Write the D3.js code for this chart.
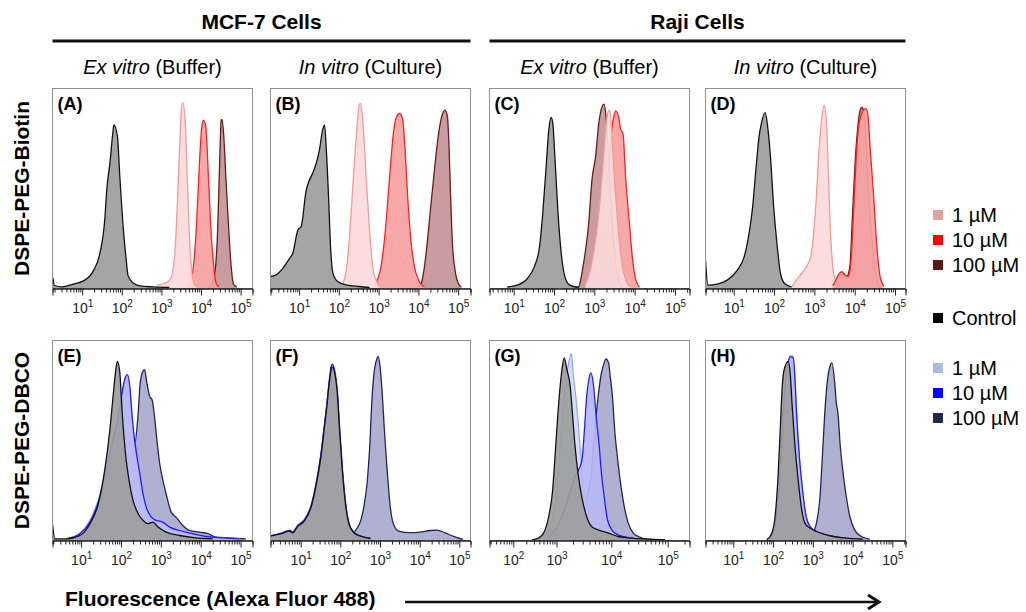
<!DOCTYPE html>
<html>
<head>
<meta charset="utf-8">
<script src="https://cdn.jsdelivr.net/npm/d3@7"></script>
<style>
  body { margin: 0; background: #fff; }
  svg { font-family: "Liberation Sans", Arial, sans-serif; }
</style>
</head>
<body>
<svg id="chart" width="1026" height="612"></svg>
<script>
// histogram traces, [log10 fluorescence, % of panel height]
var aCtrl = [[0.26,5.5],[0.3,1.5],[0.5,0.8],[0.77,2.2],[1.03,3.8],[1.28,8.8],[1.45,17.9],[1.57,34.5],[1.62,49.4],[1.70,62.7],[1.78,79],[1.80,81.8],[1.89,76],[1.95,56],[2.04,29.5],[2.11,14.6],[2.16,6.3],[2.29,2.7],[2.46,1.3],[2.80,0.8],[3.2,0.5]];
var a1 = [[2.88,1.7],[3.13,3],[3.26,6.3],[3.35,21],[3.41,46],[3.46,71],[3.51,90.9],[3.54,92.9],[3.60,84],[3.64,62.7],[3.70,29.5],[3.77,8],[3.83,2.2],[3.9,0.8]];
var a10 = [[3.65,0.8],[3.73,2.7],[3.81,11.3],[3.89,32.8],[3.96,62.7],[4.02,80.9],[4.06,84.2],[4.12,80.9],[4.19,54.4],[4.25,29.5],[4.32,11.3],[4.38,2.7],[4.45,0.8]];
var a100 = [[4.2,0.8],[4.27,2.2],[4.36,9.6],[4.42,29.5],[4.47,62.7],[4.51,84.2],[4.53,84.6],[4.57,77.6],[4.63,54.4],[4.70,29.5],[4.76,11.3],[4.82,2.2],[4.9,0.8]];

var bCtrl = [[0.28,6],[0.42,6.8],[0.59,10.1],[0.76,15.1],[0.84,17.6],[0.97,29.3],[1.05,31],[1.18,49.3],[1.26,54.2],[1.34,57.6],[1.43,62.6],[1.51,69.2],[1.59,79.2],[1.64,81.7],[1.68,70.9],[1.74,45.9],[1.79,20.9],[1.85,7.7],[1.97,3.5],[2.18,1.8],[2.51,1],[2.77,0.5]];
var b1 = [[2.02,0.8],[2.10,2.7],[2.20,11],[2.28,29.3],[2.36,54.2],[2.45,79.2],[2.51,91.7],[2.54,92.5],[2.60,84.2],[2.68,57.6],[2.77,29.3],[2.85,11],[2.95,3.5],[3.02,1.3]];
var b10 = [[2.88,0.8],[2.95,3.5],[3.06,11],[3.17,29.3],[3.27,54.2],[3.37,77.5],[3.45,85.9],[3.52,87.5],[3.60,85],[3.66,70.9],[3.73,45.9],[3.81,24.3],[3.90,11],[4.00,4.3],[4.09,1.8],[4.15,0.8]];
var b100 = [[4.0,0.8],[4.06,1.8],[4.14,9.3],[4.23,24.3],[4.31,40.9],[4.42,62.6],[4.52,79.2],[4.61,87.5],[4.67,89.2],[4.73,85.9],[4.77,70.9],[4.81,45.9],[4.85,24.3],[4.92,9.3],[5.01,2.3],[5.08,0.8]];

var cCtrl = [[0.84,0.8],[1.09,1.7],[1.34,5],[1.51,10.8],[1.64,20.8],[1.72,37.5],[1.81,62.5],[1.87,79.2],[1.93,85.5],[1.97,82.5],[2.03,62.5],[2.10,37.5],[2.18,17.5],[2.27,5.8],[2.39,1.7],[2.61,0.5]];
var c1 = [[2.77,1.7],[2.90,9.2],[3.03,24.2],[3.11,37.5],[3.21,60.8],[3.28,79.2],[3.34,88.3],[3.38,89.2],[3.43,79.2],[3.49,57.5],[3.55,40.8],[3.61,25.8],[3.70,10.8],[3.82,2.5],[3.9,0.8]];
var c10 = [[2.86,1.7],[2.98,7.5],[3.11,20.8],[3.24,37.5],[3.36,60.8],[3.43,79.2],[3.49,86.7],[3.53,88.8],[3.60,85.8],[3.66,79.2],[3.71,77.5],[3.78,54.2],[3.87,32.5],[3.95,14.2],[4.03,4.2],[4.12,0.8]];
var c100 = [[2.55,0.5],[2.61,0.8],[2.69,7.5],[2.77,17.5],[2.86,32.5],[2.94,54.2],[3.03,65.8],[3.11,82.5],[3.19,90.8],[3.24,92.2],[3.29,85.8],[3.34,70.8],[3.40,45.8],[3.49,20.8],[3.57,7.5],[3.66,1.7],[3.72,0.5]];

var dCtrl = [[0.30,14.2],[0.36,1.7],[0.59,2.2],[0.84,4.2],[1.09,9.2],[1.26,15.9],[1.38,27.6],[1.47,41],[1.55,59.5],[1.63,76.2],[1.69,82.9],[1.78,87.9],[1.84,81.2],[1.91,66.2],[1.99,41],[2.08,20.9],[2.16,7.5],[2.26,2.5],[2.43,0.8]];
var d1 = [[2.35,0.5],[2.43,0.8],[2.55,4.2],[2.68,7.5],[2.80,10.9],[2.91,15.9],[2.99,29.3],[3.05,46.1],[3.11,67.8],[3.18,84.6],[3.24,91.6],[3.30,82.9],[3.34,62.8],[3.38,37.7],[3.43,17.6],[3.49,5.9],[3.59,1.7],[3.65,0.5]];
var d10 = [[3.45,1.5],[3.51,3.4],[3.59,6.7],[3.68,8.4],[3.76,6.7],[3.84,5.9],[3.91,14.2],[3.97,37.7],[4.03,62.8],[4.09,79.6],[4.18,87.9],[4.24,89.6],[4.28,89.9],[4.33,86.3],[4.38,71.2],[4.47,46.1],[4.55,20.9],[4.63,5.9],[4.72,1.2]];
var d100 = [[3.5,1.5],[3.59,5.9],[3.72,7.5],[3.80,5.9],[3.88,10.9],[3.94,34.3],[4.01,62.8],[4.08,81.2],[4.13,88.8],[4.18,90.5],[4.23,87.9],[4.28,74.5],[4.34,49.4],[4.43,24.3],[4.51,9.2],[4.59,2.2],[4.65,0.5]];

var eCtrl = [[0.28,8.4],[0.34,0.8],[0.63,0.8],[0.97,2.5],[1.22,8.4],[1.43,18.4],[1.59,35.2],[1.72,55.3],[1.80,72],[1.87,85.4],[1.91,89.6],[1.97,83.8],[2.03,63.7],[2.12,41.9],[2.20,30.2],[2.30,20.1],[2.43,13.4],[2.55,10.1],[2.68,8.4],[2.80,9.2],[2.93,6.7],[3.13,4.2],[3.47,2.5],[3.88,1.3],[4.30,0.8]];
var e1 = [[0.63,0.8],[0.97,3.8],[1.22,10],[1.47,23],[1.63,36],[1.80,51],[1.93,62],[2.01,71],[2.09,79],[2.16,81.5],[2.22,76],[2.28,61],[2.34,49],[2.40,40],[2.47,32],[2.55,22.5],[2.63,16],[2.76,11],[2.88,9.5],[3.05,8.5],[3.22,6.3],[3.47,4.6],[3.80,3.1],[4.13,1.8],[4.55,1.2],[4.97,0.8]];
var e10 = [[0.63,0.8],[0.97,3.4],[1.22,9.2],[1.47,21.8],[1.63,35.2],[1.80,50.3],[1.93,62],[2.01,72],[2.09,80.4],[2.16,82.9],[2.22,77.1],[2.28,62],[2.34,50.3],[2.40,41.9],[2.47,33.5],[2.55,23.5],[2.63,16.8],[2.76,11.7],[2.88,10.1],[3.05,9.2],[3.22,6.7],[3.47,5],[3.80,3.4],[4.13,2],[4.55,1.3],[4.97,0.8]];
var e100 = [[0.63,0.8],[1.05,4.2],[1.38,15.1],[1.63,33.5],[1.88,45.2],[2.13,48.6],[2.34,47.7],[2.43,63.7],[2.48,78.7],[2.55,84.6],[2.59,85.4],[2.65,78.7],[2.72,72],[2.78,70.4],[2.84,62],[2.90,50.3],[2.97,38.5],[3.05,30.2],[3.13,23.5],[3.26,14.2],[3.38,11.7],[3.55,7.5],[3.72,5],[3.97,4.2],[4.18,3.4],[4.38,1.7],[4.72,1.3],[5.13,0.8]];

var fCtrl = [[0.24,2.2],[0.51,3.4],[0.72,4.7],[0.80,3.9],[0.93,7.2],[1.09,9.7],[1.26,16.5],[1.38,26.6],[1.51,41.7],[1.61,58.5],[1.66,66.9],[1.72,78.7],[1.78,86.2],[1.80,86.7],[1.86,83.7],[1.93,71.9],[1.98,55.1],[2.05,35],[2.13,18.2],[2.22,8.1],[2.34,3.9],[2.51,2.2],[2.76,1]];
var f1 = [[0.24,2.4],[0.51,3.8],[0.72,5.2],[0.80,4.5],[0.93,7.8],[1.09,10.5],[1.26,17.5],[1.38,28],[1.51,43.5],[1.61,60],[1.66,68.5],[1.72,80],[1.78,87.5],[1.81,88],[1.87,84.5],[1.94,72.5],[1.99,55.5],[2.06,35.5],[2.14,18.5],[2.23,8.3],[2.35,4],[2.52,2.2],[2.77,1]];
var f10 = [[0.24,2.3],[0.51,3.6],[0.72,5],[0.80,4.2],[0.93,7.5],[1.09,10.2],[1.26,17.2],[1.38,27.5],[1.51,43],[1.61,59.5],[1.66,68],[1.72,79.5],[1.78,87.8],[1.80,88.2],[1.86,84],[1.93,72],[1.98,55.5],[2.05,35.5],[2.13,18.5],[2.22,8.2],[2.34,4],[2.51,2.2],[2.76,1]];
var f100 = [[2.09,1.3],[2.26,2.7],[2.43,6.4],[2.51,9.7],[2.59,16.5],[2.68,29.9],[2.74,46.7],[2.80,71.9],[2.86,85.4],[2.93,91.3],[2.95,92.1],[2.99,88.7],[3.05,75.3],[3.11,55.1],[3.18,35],[3.26,16.5],[3.34,8.1],[3.47,4.7],[3.76,3.9],[4.01,4.2],[4.26,5],[4.43,5.2],[4.63,3.9],[4.84,2.2],[5.09,0.5]];

var gCtrl = [[2.43,0.3],[2.58,1.2],[2.70,3.7],[2.82,12],[2.91,25],[2.98,46.7],[3.05,72.1],[3.10,85.5],[3.14,91.3],[3.19,85.5],[3.25,77.1],[3.29,63.8],[3.34,46.7],[3.40,32.1],[3.46,22],[3.55,12],[3.64,7],[3.76,5.3],[3.95,3.7],[4.12,2],[4.36,1.2],[4.65,0.7],[4.95,0.3]];
var g1 = [[2.70,1.5],[2.82,5.3],[2.97,18.7],[3.07,47.1],[3.15,75.5],[3.21,87.1],[3.25,92.2],[3.27,93.5],[3.31,82.1],[3.37,67.1],[3.43,47.1],[3.49,27],[3.58,15.4],[3.70,8.7],[3.82,5.3],[4.06,2],[4.36,0.7]];
var g10 = [[2.80,1.5],[2.97,5.3],[3.10,12],[3.22,22],[3.34,32.1],[3.46,39.6],[3.51,55.4],[3.55,72.1],[3.59,80.5],[3.63,83.8],[3.67,78.8],[3.73,60.4],[3.78,47.1],[3.82,33.7],[3.87,22],[3.93,10.4],[4.01,5.3],[4.12,2.8],[4.36,1.2],[4.65,0.3]];
var g100 = [[3.05,0.5],[3.16,2],[3.34,8.7],[3.52,18.7],[3.64,35.4],[3.70,55.4],[3.76,72.1],[3.82,83.8],[3.87,88.8],[3.90,90.8],[3.95,88.8],[3.98,82.1],[4.02,72.1],[4.06,55.4],[4.12,38.7],[4.18,25.4],[4.24,15.4],[4.30,8.7],[4.39,3.7],[4.48,2],[4.65,0.7],[4.95,0.3]];

var hCtrl = [[1.84,0.3],[1.97,3.7],[2.05,12],[2.12,30.4],[2.18,55.4],[2.23,77.1],[2.28,85.5],[2.38,89.6],[2.43,83.8],[2.48,67.1],[2.55,47.1],[2.63,30.4],[2.72,15.4],[2.80,8.7],[2.93,6.2],[3.09,4.5],[3.26,3.3],[3.51,2],[3.84,1.2],[4.26,0.7]];
var h1 = [[1.93,1.2],[2.05,6.5],[2.13,21],[2.22,46],[2.28,71],[2.36,86.5],[2.43,92.3],[2.49,92.5],[2.55,81],[2.59,64],[2.66,42],[2.74,25],[2.83,12],[2.93,7],[3.09,4.5],[3.43,2.3],[3.84,1.2]];
var h10 = [[1.93,1.2],[2.05,7],[2.13,22],[2.22,47.1],[2.28,72.1],[2.36,87.1],[2.43,91.8],[2.51,91.3],[2.55,80.5],[2.59,63.8],[2.66,42.1],[2.74,25.4],[2.83,12],[2.93,7],[3.09,4.5],[3.43,2.3],[3.84,1.2]];
var h100 = [[2.68,1.2],[2.88,3.7],[3.03,5.3],[3.09,8.7],[3.18,22],[3.24,42.1],[3.30,63.8],[3.36,78.8],[3.43,87.1],[3.48,88.8],[3.55,78.8],[3.59,68.8],[3.63,63.8],[3.69,47.1],[3.76,33.7],[3.84,22],[3.93,12],[4.05,5.3],[4.22,2],[4.43,0.7]];

// axis labels and text
var decades = [1, 2, 3, 4, 5];
var decadesG = [2, 3, 4, 5];
var cellGroups = ["MCF-7 Cells", "Raji Cells"];
var conditions = [["Ex vitro", " (Buffer)"], ["In vitro", " (Culture)"]];
var rowNames = ["DSPE-PEG-Biotin", "DSPE-PEG-DBCO"];
var panelLetters = ["A", "B", "C", "D", "E", "F", "G", "H"];
var concLabels = ["1 µM", "10 µM", "100 µM"];
var redKeys = ["#dfa3a3", "#ff0000", "#5a1919"];
var blueKeys = ["#a9bde2", "#0000ff", "#1b2b4d"];

var svg = d3.select("#chart");
var pw = 200, ph = 200;
var colX = [52.5, 270.5, 489.5, 705.5];
var rowY = [88.5, 340.5];

var styles = {
  ctrl: {fill: "#9d9d9d", stroke: "#111"},
  r1:   {fill: "#fcdada", stroke: "#f39a9a"},
  r10:  {fill: "#f6a2a2", stroke: "#ff1f1f"},
  r100: {fill: "#c49597", stroke: "#6a1a1a"},
  b1:   {fill: "#d3d9f7", stroke: "#97a9f5"},
  b10:  {fill: "#b7b7f4", stroke: "#1e1eff"},
  b100: {fill: "#a9a9cc", stroke: "#23235f"}
};

var panels = [
  {dom: [0.25, 5.30], labels: decades, traces: [["r100", a100], ["r10", a10], ["r1", a1], ["ctrl", aCtrl]]},
  {dom: [0.28, 5.31], labels: decades, traces: [["r100", b100], ["r10", b10], ["r1", b1], ["ctrl", bCtrl]]},
  {dom: [0.40, 5.36], labels: decades, traces: [["r10", c10], ["r100", c100], ["r1", c1], ["ctrl", cCtrl]]},
  {dom: [0.30, 5.26], labels: decades, traces: [["r1", d1], ["r100", d100], ["r10", d10], ["ctrl", dCtrl]]},
  {dom: [0.28, 5.30], labels: decades, traces: [["b100", e100], ["b1", e1], ["b10", e10], ["ctrl", eCtrl]]},
  {dom: [0.24, 5.28], labels: decades, traces: [["b100", f100], ["b1", f1], ["b10", f10], ["ctrl", fCtrl]]},
  {dom: [1.45, 2, 3, 4, 5, 5.39], frac: [0, 0.119, 0.335, 0.609, 0.891, 1], labels: decadesG,
    traces: [["b100", g100], ["b1", g1], ["b10", g10], ["ctrl", gCtrl]]},
  {dom: [0.30, 5.33], labels: decades, traces: [["b100", h100], ["b1", h1], ["b10", h10], ["ctrl", hCtrl]]}
];

panels.forEach(function(p, i) {
  var row = Math.floor(i / 4), col = i % 4;
  var g = svg.append("g").attr("transform", "translate(" + colX[col] + "," + rowY[row] + ")");

  var x = d3.scaleLinear().domain(p.dom)
    .range(p.frac ? p.frac.map(function(f) { return f * pw; }) : [0, pw]);
  var y = d3.scaleLinear().domain([0, 100]).range([ph, 0]);

  g.append("clipPath").attr("id", "clip" + i)
    .append("rect").attr("width", pw).attr("height", ph);
  var plot = g.append("g").attr("clip-path", "url(#clip" + i + ")");

  var area = d3.area().x(function(d) { return x(d[0]); })
    .y0(ph).y1(function(d) { return y(d[1]); }).curve(d3.curveMonotoneX);
  var line = d3.line().x(function(d) { return x(d[0]); })
    .y(function(d) { return y(d[1]); }).curve(d3.curveMonotoneX);

  // each histogram: fill then outline, so later ones cover earlier ones
  p.traces.forEach(function(t) {
    var s = styles[t[0]];
    plot.append("path").datum(t[1]).attr("d", area)
      .attr("fill", s.fill).attr("fill-opacity", 0.92);
    plot.append("path").datum(t[1]).attr("d", line)
      .attr("fill", "none").attr("stroke", s.stroke).attr("stroke-width", 1.3);
  });

  // frame
  g.append("rect").attr("width", pw).attr("height", ph)
    .attr("fill", "none").attr("stroke", "#8f8f8f").attr("stroke-width", 1);

  // minor ticks
  var lo = p.dom[0], hi = p.dom[p.dom.length - 1];
  var minors = [];
  for (var dec = Math.floor(lo); dec <= Math.ceil(hi); dec++) {
    for (var k = 2; k <= 9; k++) {
      var v = dec + Math.log10(k);
      if (v >= lo && v <= hi) minors.push(v);
    }
  }
  var ax = g.append("g").attr("transform", "translate(0," + ph + ")");
  ax.append("g").call(d3.axisBottom(x).tickValues(minors).tickSize(4).tickFormat(""));
  var major = ax.append("g").call(d3.axisBottom(x).tickValues(p.labels).tickSize(7).tickFormat(""));
  ax.selectAll(".domain").attr("stroke", "#222");
  ax.selectAll(".tick line").attr("stroke", "#222");

  major.selectAll(".tick").each(function(d) {
    var t = d3.select(this).append("text")
      .attr("y", 24).attr("fill", "#222").attr("text-anchor", "middle")
      .style("font-size", "14px");
    t.append("tspan").text("10");
    t.append("tspan").attr("dy", -6).style("font-size", "10px").text(d);
  });

  g.append("text").attr("x", 5).attr("y", 21)
    .style("font-size", "18px").style("font-weight", "bold")
    .text("(" + panelLetters[i] + ")");
});

// column headers
cellGroups.forEach(function(name, j) {
  var x0 = colX[j * 2], x1 = colX[j * 2 + 1] + pw;
  svg.append("text").attr("x", (x0 + x1) / 2).attr("y", 29)
    .attr("text-anchor", "middle").style("font-size", "21px").style("font-weight", "bold")
    .text(name);
  svg.append("line").attr("x1", x0).attr("x2", x1).attr("y1", 41).attr("y2", 41)
    .attr("stroke", "#111").attr("stroke-width", 3);
});
colX.forEach(function(cx, j) {
  var c = conditions[j % 2];
  var t = svg.append("text").attr("x", cx + pw / 2).attr("y", 74)
    .attr("text-anchor", "middle").style("font-size", "20px");
  t.append("tspan").style("font-style", "italic").text(c[0]);
  t.append("tspan").text(c[1]);
});

rowNames.forEach(function(name, r) {
  svg.append("text")
    .attr("transform", "translate(29," + (rowY[r] + ph / 2) + ") rotate(-90)")
    .attr("text-anchor", "middle").style("font-size", "21px").style("font-weight", "bold")
    .text(name);
});

// legend
var legendRows = [];
concLabels.forEach(function(l, k) { legendRows.push({label: l, color: redKeys[k], y: 215 + k * 25}); });
legendRows.push({label: "Control", color: "#000", y: 318});
concLabels.forEach(function(l, k) { legendRows.push({label: l, color: blueKeys[k], y: 368 + k * 25}); });
var leg = svg.append("g").selectAll("g").data(legendRows).enter().append("g")
  .attr("transform", function(d) { return "translate(933," + d.y + ")"; });
leg.append("rect").attr("x", 0).attr("y", -5).attr("width", 10).attr("height", 10)
  .attr("fill", function(d) { return d.color; });
leg.append("text").attr("x", 19).attr("y", 7).style("font-size", "20px")
  .text(function(d) { return d.label; });

// x title with arrow
svg.append("text").attr("x", 65).attr("y", 606)
  .style("font-size", "21px").style("font-weight", "bold")
  .text("Fluorescence (Alexa Fluor 488)");
svg.append("line").attr("x1", 405).attr("x2", 878).attr("y1", 602).attr("y2", 602)
  .attr("stroke", "#111").attr("stroke-width", 2.5);
svg.append("path").attr("d", "M868,595 L879,602 L868,609")
  .attr("fill", "none").attr("stroke", "#111").attr("stroke-width", 3);
</script>
</body>
</html>
